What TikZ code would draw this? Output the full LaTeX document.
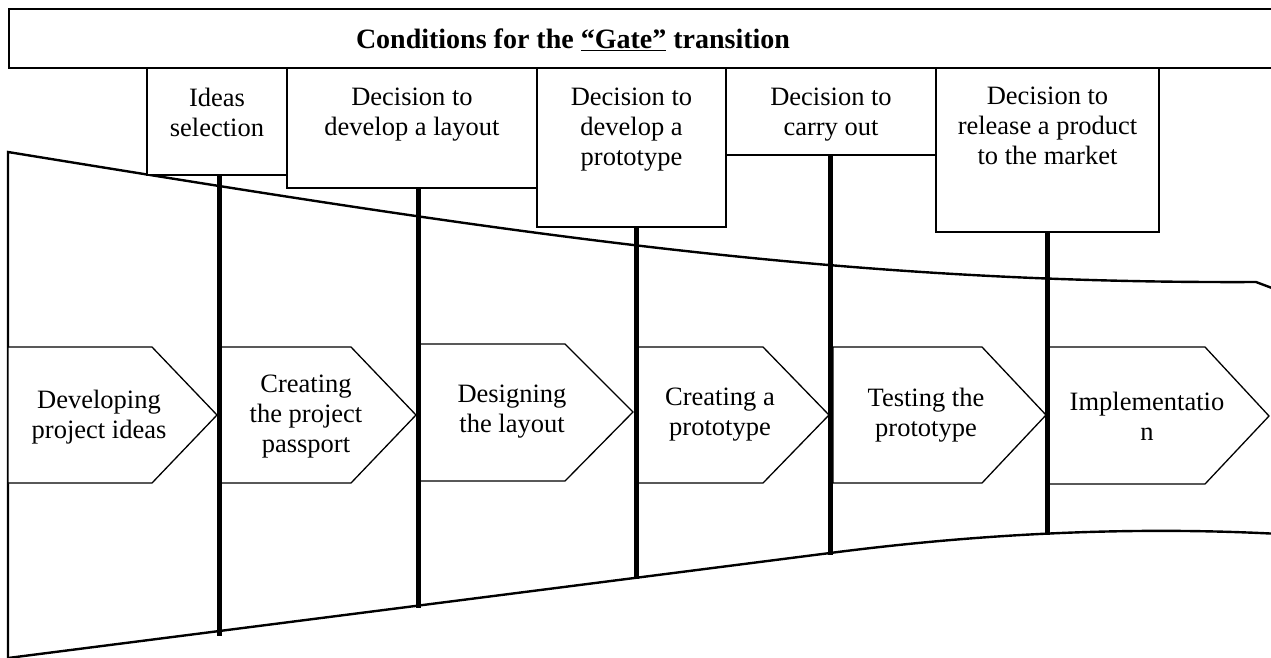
\documentclass[tikz,border=0pt]{standalone}
\usepackage{fontspec}
\setmainfont{Liberation Serif}
\begin{document}
\begin{tikzpicture}[x=1pt,y=-1pt,
  gatebox/.style={draw, line width=1.4pt, fill=white, inner sep=0pt, outer sep=0pt, anchor=north west},
  gatetext/.style={anchor=north, align=center, inner sep=0pt, font=\fontsize{26.5}{30}\selectfont},
  steptext/.style={align=center, inner sep=0pt, font=\fontsize{26.5}{30}\selectfont},
  chev/.style={draw, line width=1.3pt, fill=white, line join=miter},
  funnel/.style={line width=2.4pt, line join=miter},
  pole/.style={line width=5pt},
  titlebox/.style={line width=2pt}
]
\useasboundingbox (0,0) rectangle (1271,657);
\begin{scope}
\clip (0,0) rectangle (1271,657);

% title band
\draw[titlebox] (1280,9) -- (9,9) -- (9,68) -- (1280,68);
\node[font=\bfseries\fontsize{28}{32}\selectfont, inner sep=0pt] (title) at (573,40)
  {Conditions for the \underline{“Gate”} transition};

% funnel
\draw[funnel] (8,665) -- (8,152) .. controls (500,232) and (830,284) .. (1256,282) -- (1280,291);
\draw[funnel] (8,658) -- (830,553) .. controls (1000,531) and (1150,527) .. (1280,534);

% gate boxes
\node[gatebox, minimum width=140pt, minimum height=107pt] (g1) at (147,68) {};
\node[gatebox, minimum width=250pt, minimum height=120pt] (g2) at (287,68) {};
\node[gatebox, minimum width=189pt, minimum height=159pt] (g3) at (537,68) {};
\node[gatebox, minimum width=210pt, minimum height=87pt] (g4) at (726,68) {};
\node[gatebox, minimum width=223pt, minimum height=164pt] (g5) at (936,68) {};

\node[gatetext] (t1) at ([yshift=-20pt]g1.north) {Ideas\\selection};
\node[gatetext] (t2) at ([yshift=-20pt]g2.north) {Decision to\\develop a layout};
\node[gatetext] (t3) at ([yshift=-20pt]g3.north) {Decision to\\develop a\\prototype};
\node[gatetext] (t4) at ([yshift=-20pt]g4.north) {Decision to\\carry out};
\node[gatetext] (t5) at ([yshift=-19pt]g5.north) {Decision to\\release a product\\to the market};

% process chevrons
\draw[chev] (8,347) -- (152,347) -- (217,415) -- (152,483) -- (8,483) -- cycle;
\draw[chev] (220,347) -- (351,347) -- (416,415) -- (351,483) -- (220,483) -- cycle;
\draw[chev] (420,344) -- (565,344) -- (633,412) -- (565,481) -- (420,481) -- cycle;
\draw[chev] (638,347) -- (763,347) -- (829,415) -- (763,483) -- (638,483) -- cycle;
\draw[chev] (833,347) -- (982,347) -- (1046,415) -- (982,483) -- (833,483) -- cycle;
\draw[chev] (1049,347) -- (1205,347) -- (1269,416) -- (1205,484) -- (1049,484) -- cycle;

\node[steptext] (s1) at (99,417) {Developing\\project ideas};
\node[steptext] (s2) at (306,417) {Creating\\the project\\passport};
\node[steptext] (s3) at (512,412) {Designing\\the layout};
\node[steptext] (s4) at (720,415) {Creating a\\prototype};
\node[steptext] (s5) at (926,415) {Testing the\\prototype};
\node[steptext] (s6) at (1147,416) {Implementatio\\n};

% gate poles
\coordinate (p1b) at (219,636);
\coordinate (p2b) at (418,608);
\coordinate (p3b) at (636,579);
\coordinate (p4b) at (830,555);
\coordinate (p5b) at (1047,535);
\draw[pole] (g1.south -| p1b) -- (p1b);
\draw[pole] (g2.south -| p2b) -- (p2b);
\draw[pole] (g3.south -| p3b) -- (p3b);
\draw[pole] (g4.south -| p4b) -- (p4b);
\draw[pole] (g5.south -| p5b) -- (p5b);
\end{scope}
\end{tikzpicture}
\end{document}
